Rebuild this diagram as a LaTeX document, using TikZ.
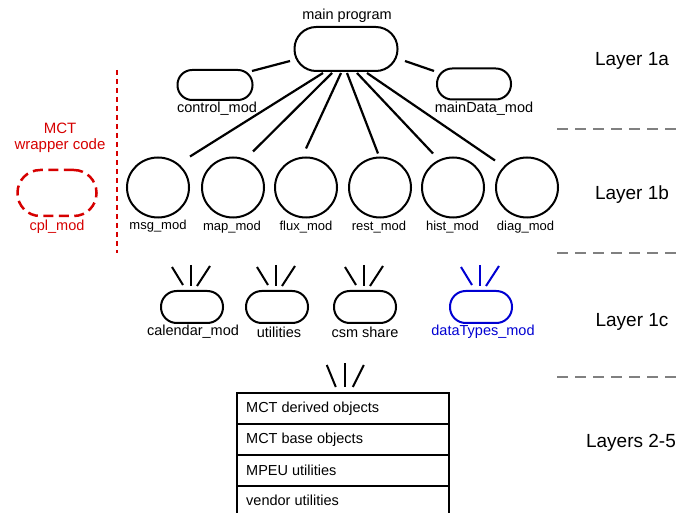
\documentclass[tikz,border=0pt]{standalone}
\usepackage{fontspec}
\setmainfont{Liberation Sans}
\usetikzlibrary{shapes.geometric,calc}
\definecolor{mctred}{RGB}{214,0,0}
\definecolor{dtblue}{RGB}{0,0,210}
\definecolor{sepgray}{RGB}{128,128,128}
\tikzset{
  capsule/.style 2 args={draw, line width=2pt, inner sep=0pt,
    minimum width=#1pt, minimum height=#2pt, rounded corners=#2pt/2-0.3pt},
  circ/.style={draw, ellipse, line width=2pt, inner sep=0pt,
    minimum width=62pt, minimum height=60pt},
  lbl/.style={inner sep=0pt, font=\fontsize{14.5}{17}\selectfont},
  slbl/.style={inner sep=0pt, font=\fontsize{13}{15}\selectfont},
  layerlbl/.style={inner sep=0pt, font=\fontsize{19}{22}\selectfont},
  conn/.style={line width=2.2pt},
  tick/.style={line width=2pt},
  sepline/.style={sepgray, line width=2pt, dash pattern=on 11pt off 7pt},
  rowbox/.style={draw, line width=1.6pt, inner sep=0pt, minimum width=212pt,
    minimum height=31pt, anchor=north west},
  rowtxt/.style={inner sep=0pt, anchor=west, font=\fontsize{14.5}{17}\selectfont}
}
\newcommand{\tickset}[2]{%
  \draw[tick,#2] ($(#1.north)+(-20,-23)$) -- ($(#1.north)+(-9,-5)$);
  \draw[tick,#2] ($(#1.north)+(-1,-25)$) -- ($(#1.north)+(-1,-4)$);
  \draw[tick,#2] ($(#1.north)+(18,-24)$) -- ($(#1.north)+(5,-4)$);
}
\begin{document}
\begin{tikzpicture}[x=1pt,y=-1pt]
\useasboundingbox (0,0) rectangle (678,513);

% Layer 1a
\node[capsule={103}{44}] (main) at (346,49) {};
\node[lbl] (mainlbl) at (347,16) {main program};
\node[capsule={75}{30}] (ctrl) at (215,85) {};
\node[lbl] (ctrllbl) at (217,109) {control\_mod};
\node[capsule={74}{31}] (mdata) at (474,84) {};
\node[lbl] (mdatalbl) at (484,109) {mainData\_mod};

\draw[conn] ($(ctrl.center)+(37,-14)$) -- ($(main.center)+(-56,12)$);
\draw[conn] ($(main.center)+(59,12)$) -- ($(mdata.center)+(-40,-13)$);

% Layer 1b
\node[circ] (msg) at (158,187.5) {};
\node[circ] (map) at (233,187.5) {};
\node[circ] (flux) at (306,187.5) {};
\node[circ] (rest) at (380,187.5) {};
\node[circ] (hist) at (453,187.5) {};
\node[circ] (diag) at (527,187.5) {};
\node[slbl] (msglbl) at (158,226) {msg\_mod};
\node[slbl] (maplbl) at (232,227) {map\_mod};
\node[slbl] (fluxlbl) at (306,227) {flux\_mod};
\node[slbl] (restlbl) at (379,227) {rest\_mod};
\node[slbl] (histlbl) at (452.5,227) {hist\_mod};
\node[slbl] (diaglbl) at (525.5,227) {diag\_mod};

\draw[conn] ($(main.center)+(-23,24)$) -- ($(msg.center)+(32,-31)$);
\draw[conn] ($(main.center)+(-14,24)$) -- ($(map.center)+(20,-36)$);
\draw[conn] ($(main.center)+(-5,24)$) -- ($(flux.center)+(0,-39)$);
\draw[conn] ($(main.center)+(1,24)$) -- ($(rest.center)+(-2,-34)$);
\draw[conn] ($(main.center)+(11,24)$) -- ($(hist.center)+(-20,-34)$);
\draw[conn] ($(main.center)+(21,24)$) -- ($(diag.center)+(-32,-27)$);

% MCT wrapper
\node[lbl, mctred, font=\fontsize{15}{18}\selectfont] (mct) at (60,128) {MCT};
\node[lbl, mctred, font=\fontsize{15}{18}\selectfont] (wrap) at (60,146) {wrapper code};
\node[capsule={79}{46}, mctred, line width=2.5pt, dash pattern=on 10pt off 5.5pt] (cpl) at (57,193) {};
\node[lbl, mctred] (cpllbl) at (57,227) {cpl\_mod};
\coordinate (vtop) at (117,70);
\coordinate (vbot) at (117,253);
\draw[mctred, line width=1.5pt, dash pattern=on 5pt off 4pt] (vtop) -- (vbot);

% Layer 1c
\node[capsule={62}{32}] (cal) at (192,307) {};
\node[capsule={62}{32}] (util) at (277,307) {};
\node[capsule={62}{32}] (csm) at (365,307) {};
\node[capsule={62}{32}, dtblue] (dtypes) at (481,307) {};
\node[lbl] (callbl) at (193,332) {calendar\_mod};
\node[lbl] (utillbl) at (279,332) {utilities};
\node[lbl] (csmlbl) at (365,332) {csm share};
\node[lbl, dtblue] (dtlbl) at (483,332) {dataTypes\_mod};
\tickset{cal}{black}
\tickset{util}{black}
\tickset{csm}{black}
\tickset{dtypes}{dtblue}

% Layers 2-5 stack
\node[rowbox] (r1) at (236,392) {};
\node[rowbox] (r2) at (236,423) {};
\node[rowbox] (r3) at (236,454) {};
\node[rowbox] (r4) at (236,485) {};
\node[rowtxt] (t1) at (246,409) {MCT derived objects};
\node[rowtxt] (t2) at (246,440) {MCT base objects};
\node[rowtxt] (t3) at (246,470) {MPEU utilities};
\node[rowtxt] (t4) at (246,500) {vendor utilities};
\draw[tick] ($(r1.north)+(-16,-27)$) -- ($(r1.north)+(-7,-5)$);
\draw[tick] ($(r1.north)+(2,-29)$) -- ($(r1.north)+(2,-5)$);
\draw[tick] ($(r1.north)+(21,-27)$) -- ($(r1.north)+(10,-5)$);

% Layer labels and separators
\node[layerlbl] (l1a) at (632,61) {Layer 1a};
\node[layerlbl] (l1b) at (632,195) {Layer 1b};
\node[layerlbl] (l1c) at (632,322) {Layer 1c};
\node[layerlbl] (l25) at (631,443) {Layers 2-5};
\coordinate (s1a) at (557,129.5); \coordinate (s1b) at (680,129.5);
\coordinate (s2a) at (557,253); \coordinate (s2b) at (680,253);
\coordinate (s3a) at (557,377); \coordinate (s3b) at (680,377);
\draw[sepline] (s1a) -- (s1b);
\draw[sepline] (s2a) -- (s2b);
\draw[sepline] (s3a) -- (s3b);
\end{tikzpicture}
\end{document}
